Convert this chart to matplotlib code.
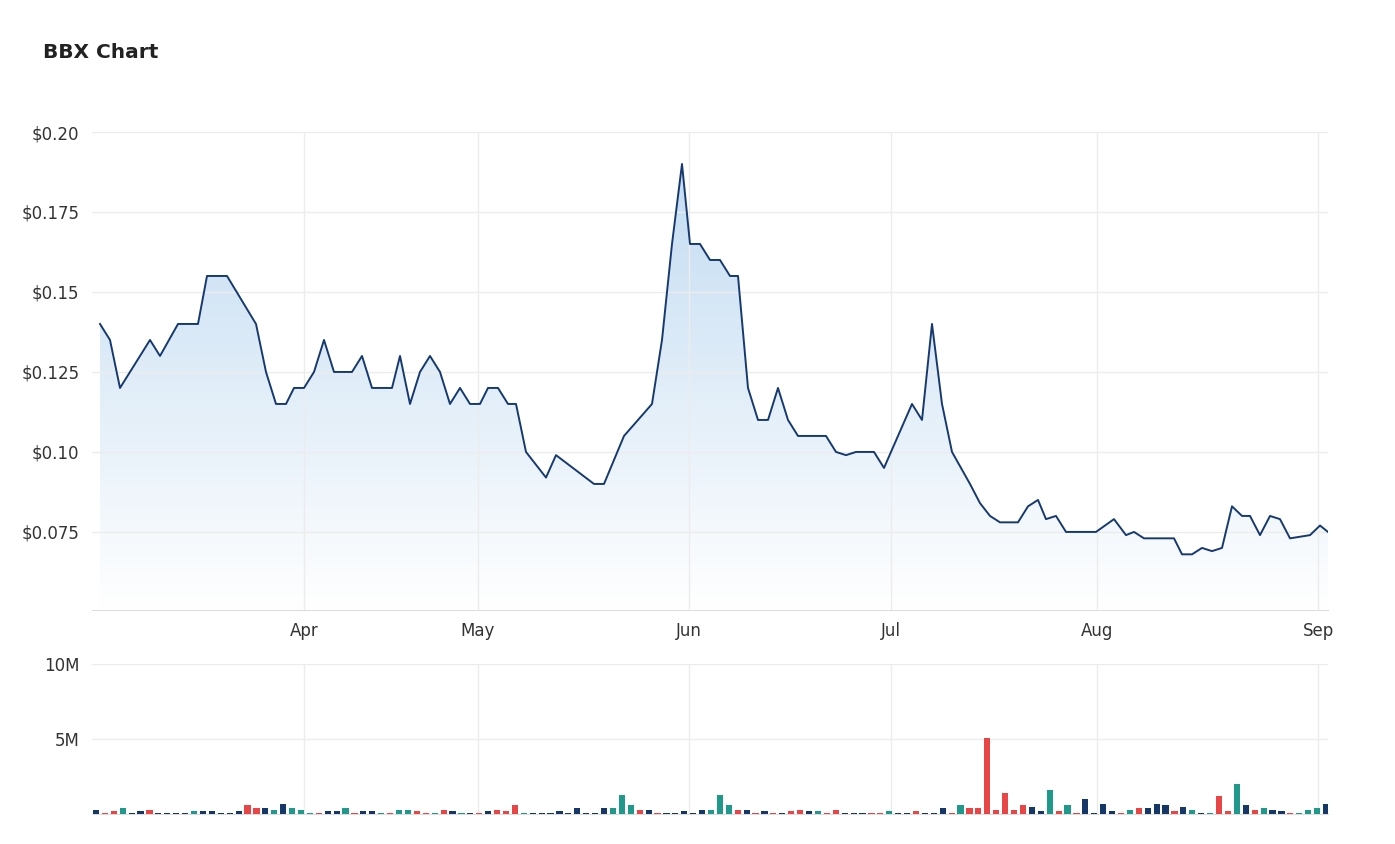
import numpy as np
import matplotlib.pyplot as plt
from matplotlib.patches import Polygon
from matplotlib.ticker import FuncFormatter

# price series: session position, closing price
day = [0, 1, 2, 3, 5, 6, 7.8, 9.8, 10.7, 12.7, 15.6, 16.6, 17.6, 18.6, 19.4, 20.4, 21.4, 22.4,
       23.4, 25.2, 26.2, 27.2, 29.2, 30, 31, 32, 33, 34, 35, 36, 37, 38, 38.8, 39.8, 40.8, 41.6,
       42.6, 44.6, 45.6, 49.4, 50.4, 52.4, 55.2, 56.2, 57.2, 58.2, 59, 60, 61, 62, 63, 63.8,
       64.8, 65.8, 66.8, 67.8, 68.8, 69.8, 72.6, 73.6, 74.6, 75.6, 77.4, 78.4, 81.2, 82.2, 83.2,
       84.2, 85.2, 87, 88, 89, 90, 91.8, 92.8, 93.8, 94.6, 95.6, 96.6, 99.6, 101.4, 102.6, 103.4,
       104.4, 107.4, 108.2, 109.2, 110.2, 111.2, 112.2, 113.2, 114.2, 115, 116, 117, 118, 119,
       121, 122, 122.8]
price = [0.140, 0.135, 0.120, 0.125, 0.135, 0.130, 0.140, 0.140, 0.155, 0.155, 0.140, 0.125,
         0.115, 0.115, 0.120, 0.120, 0.125, 0.135, 0.125, 0.125, 0.130, 0.120, 0.120, 0.130,
         0.115, 0.125, 0.130, 0.125, 0.115, 0.120, 0.115, 0.115, 0.120, 0.120, 0.115, 0.115,
         0.100, 0.092, 0.099, 0.090, 0.090, 0.105, 0.115, 0.135, 0.165, 0.190, 0.165, 0.165,
         0.160, 0.160, 0.155, 0.155, 0.120, 0.110, 0.110, 0.120, 0.110, 0.105, 0.105, 0.100,
         0.099, 0.100, 0.100, 0.095, 0.115, 0.110, 0.140, 0.115, 0.100, 0.090, 0.084, 0.080,
         0.078, 0.078, 0.083, 0.085, 0.079, 0.080, 0.075, 0.075, 0.079, 0.074, 0.075, 0.073,
         0.073, 0.068, 0.068, 0.070, 0.069, 0.070, 0.083, 0.080, 0.080, 0.074, 0.080, 0.079,
         0.073, 0.074, 0.077, 0.075]

# volume in millions, with colour code (n = flat, t = up, r = down)
volume = [0.27, 0.07, 0.18, 0.38, 0.07, 0.18, 0.27, 0.07, 0.07, 0.07, 0.07, 0.18, 0.18, 0.18,
          0.07, 0.07, 0.18, 0.58, 0.38, 0.38, 0.27, 0.67, 0.38, 0.27, 0.07, 0.07, 0.18, 0.18,
          0.38, 0.07, 0.18, 0.18, 0.07, 0.07, 0.27, 0.27, 0.18, 0.07, 0.07, 0.27, 0.18, 0.07,
          0.07, 0.07, 0.18, 0.27, 0.18, 0.58, 0.07, 0.07, 0.07, 0.07, 0.18, 0.07, 0.38, 0.07,
          0.07, 0.38, 0.38, 1.27, 0.58, 0.27, 0.27, 0.07,
          0.07, 0.07, 0.18, 0.07, 0.27, 0.27, 1.27, 0.58, 0.27,
          0.27, 0.07, 0.18, 0.07, 0.07, 0.18, 0.27, 0.18, 0.18, 0.07, 0.27, 0.07, 0.07, 0.07,
          0.07, 0.07, 0.18, 0.07, 0.07, 0.18, 0.07, 0.07, 0.38, 0.07, 0.58, 0.38, 0.38, 5.07,
          0.27, 1.38, 0.27, 0.58, 0.47, 0.18, 1.58, 0.18, 0.58, 0.07, 1.0, 0.07, 0.67, 0.18,
          0.07, 0.27, 0.38, 0.38, 0.67, 0.58, 0.18, 0.47, 0.27, 0.07, 0.07, 1.18, 0.18, 1.98,
          0.58, 0.27, 0.38, 0.27, 0.18, 0.07, 0.07, 0.27, 0.38, 0.67]
vol_col = list("nrrtnnrnnnntnnnnnrrntntttrnntrnntrttrrtrntnrnrrrtnnnnnnnnntttrnr"
               "nnnnntttr"
               "nrnrnrrntrrnnnrrtnnrnnnrtrrrrrrrnntrtrnnnnrtrnnnrntntrrtnrtnnrttt")[:len(volume)]

month_labels = ["Apr", "May", "Jun", "Jul", "Aug", "Sep"]
month_pos = [20.4, 37.8, 58.9, 79.1, 99.7, 121.8]

colors = {"n": "#153868", "t": "#20998d", "r": "#e84646"}
line_c = "#163a70"
grid_c = "#ececec"
ymin, ymax = 0.0506, 0.20
xmin, xmax = -0.8, 122.8

fig = plt.figure(figsize=(13.95, 8.44), dpi=100)
fig.text(43 / 1395, 1 - 52 / 844, "BBX Chart", fontsize=14.5, fontweight="bold",
         color="#222222", va="center", ha="left")

ax = fig.add_axes([92 / 1395, 1 - 610 / 844, 1236 / 1395, 478 / 844])
grad = np.linspace(1, 0, 256).reshape(-1, 1)
from matplotlib.colors import LinearSegmentedColormap
cmap = LinearSegmentedColormap.from_list("g", ["#ffffff", "#c3dcf2"])
im = ax.imshow(grad, cmap=cmap, aspect="auto", extent=[xmin, xmax, ymin, 0.19],
               origin="upper", zorder=1)
poly = Polygon(list(zip(day, price)) + [(day[-1], ymin), (day[0], ymin)], closed=True,
               transform=ax.transData, facecolor="none", edgecolor="none")
ax.add_patch(poly)
im.set_clip_path(poly)
ax.plot(day, price, color=line_c, lw=1.4, zorder=3)
ax.set_xlim(xmin, xmax)
ax.set_ylim(ymin, ymax)
ax.set_yticks([0.075, 0.1, 0.125, 0.15, 0.175, 0.2])
ax.yaxis.set_major_formatter(FuncFormatter(lambda v, p: ("$%.3f" % v).rstrip("0") if v not in (0.1, 0.2) else "$%.2f" % v))
ax.set_xticks(month_pos)
ax.set_xticklabels(month_labels)
ax.grid(True, color=grid_c, lw=1, zorder=0)
for s in ["top", "right", "left"]:
    ax.spines[s].set_visible(False)
ax.spines["bottom"].set_color("#dddddd")
ax.tick_params(length=0, labelsize=12, colors="#333333", pad=9)

vx = np.linspace(-0.4, 122.6, len(volume))
av = fig.add_axes([92 / 1395, 1 - 814 / 844, 1236 / 1395, 150 / 844])
av.bar(vx, volume, width=0.62, color=[colors[c] for c in vol_col], zorder=3)
av.set_xlim(xmin, xmax)
av.set_ylim(0, 10)
av.set_yticks([5, 10])
av.set_yticklabels(["5M", "10M"])
av.set_xticks(month_pos)
av.set_xticklabels([])
av.grid(True, color=grid_c, lw=1, zorder=0)
for s in ["top", "right", "left"]:
    av.spines[s].set_visible(False)
av.spines["bottom"].set_color("#dddddd")
av.tick_params(length=0, labelsize=12, colors="#333333", pad=9)

fig.savefig("out.png", dpi=100)
